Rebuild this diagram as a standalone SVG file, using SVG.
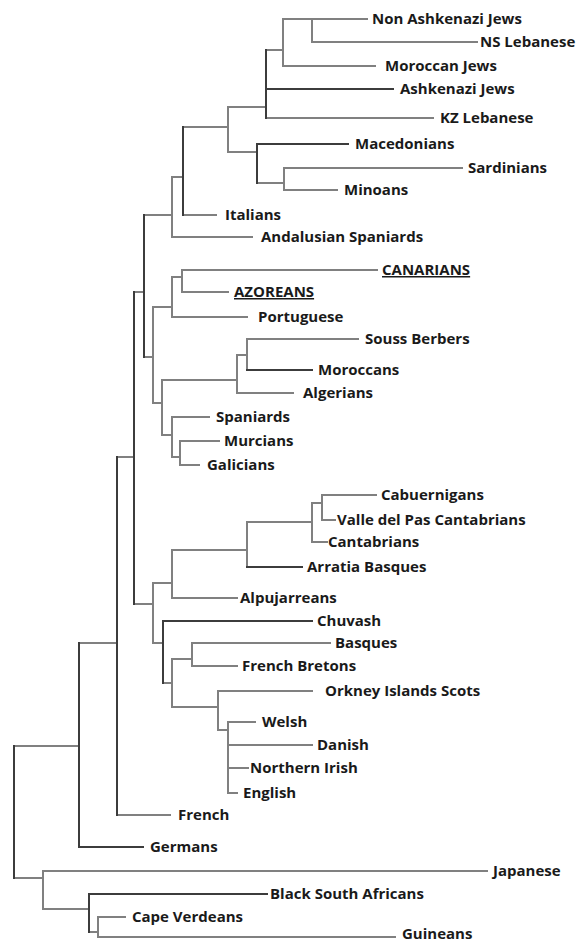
<svg xmlns="http://www.w3.org/2000/svg" width="579" height="944" viewBox="0 0 579 944">
<style>
.e{fill:none;stroke:#808080;stroke-width:2;stroke-linecap:square}
.d{fill:none;stroke:#3c3c3c;stroke-width:2;stroke-linecap:square}
text{font-family:"Open Sans","Noto Sans","DejaVu Sans",sans-serif;font-weight:700;font-size:15px;fill:#1a1a1a}
.u{text-decoration:underline}
</style>
<rect width="579" height="944" fill="#ffffff"/>
<g id="connectors">
<path class="e" d="M312 19V42M283 19H367M312 42H477M283 19V66M283 66H375M266 50H283M266 118H433M228 107H266M228 107V152M183 127H228M228 152H257M257 183H284M284 168V190M284 168H462M284 190H337M183 215H216M172 177H183M172 177V237M172 237H252M144 215H172M135 292H144M144 357H153M153 307V403M153 307H172M172 277V317M172 277H182M182 270V292M182 270H377M182 292H228M172 317H247M153 403H162M162 380V435M162 380H237M237 355V393M237 355H247M247 339V370M247 339H358M237 393H293M162 435H172M172 417V457M172 417H209M172 457H180M180 441V465M180 441H219M180 465H199M117 457H134M134 604H153M153 583V643M153 583H172M172 550V598M172 550H247M247 522V567M247 522H312M312 503V542M312 503H322M322 495V520M322 495H376M322 520H335M312 542H327M172 598H237M153 643H163M163 683H172M172 659V707M172 659H192M192 643V666M192 643H330M192 666H237M172 707H218M218 691V730M218 691H312M218 730H228M228 722V793M228 722H255M228 745H312M228 768H248M228 793H237M117 815H170M79 643H117M14 746H79M14 878H43M43 871V909M43 871H487M43 909H89M89 932H98M98 917V937M98 917H125M98 937H395"/>
<path class="d" d="M266 50V118M266 89H393M183 127V215M257 144V183M257 144H348M144 215V357M134 292V604M117 457V815M247 370H312M247 567H302M163 621V683M163 621H312M79 643V847M79 847H143M14 746V878M89 894V932M89 894H267"/>
</g>
<g id="n-non-ashkenazi-jews"><text x="372" y="24">Non Ashkenazi Jews</text></g>
<g id="n-ns-lebanese"><text x="480" y="47">NS Lebanese</text></g>
<g id="n-moroccan-jews"><text x="385" y="71">Moroccan Jews</text></g>
<g id="n-ashkenazi-jews"><text x="400" y="94">Ashkenazi Jews</text></g>
<g id="n-kz-lebanese"><text x="440" y="123">KZ Lebanese</text></g>
<g id="n-macedonians"><text x="355" y="149">Macedonians</text></g>
<g id="n-sardinians"><text x="468" y="173">Sardinians</text></g>
<g id="n-minoans"><text x="344" y="195">Minoans</text></g>
<g id="n-italians"><text x="225" y="220">Italians</text></g>
<g id="n-andalusian-spaniards"><text x="261" y="242">Andalusian Spaniards</text></g>
<g id="n-canarians"><text class="u" x="382" y="275">CANARIANS</text></g>
<g id="n-azoreans"><text class="u" x="234" y="297">AZOREANS</text></g>
<g id="n-portuguese"><text x="258" y="322">Portuguese</text></g>
<g id="n-souss-berbers"><text x="365" y="344">Souss Berbers</text></g>
<g id="n-moroccans"><text x="318" y="375">Moroccans</text></g>
<g id="n-algerians"><text x="303" y="398">Algerians</text></g>
<g id="n-spaniards"><text x="216" y="422">Spaniards</text></g>
<g id="n-murcians"><text x="224" y="446">Murcians</text></g>
<g id="n-galicians"><text x="207" y="470">Galicians</text></g>
<g id="n-cabuernigans"><text x="381" y="500">Cabuernigans</text></g>
<g id="n-valle-del-pas"><text x="337" y="525">Valle del Pas Cantabrians</text></g>
<g id="n-cantabrians"><text x="328" y="547">Cantabrians</text></g>
<g id="n-arratia-basques"><text x="307" y="572">Arratia Basques</text></g>
<g id="n-alpujarreans"><text x="240" y="603">Alpujarreans</text></g>
<g id="n-chuvash"><text x="317" y="626">Chuvash</text></g>
<g id="n-basques"><text x="335" y="648">Basques</text></g>
<g id="n-french-bretons"><text x="242" y="671">French Bretons</text></g>
<g id="n-orkney"><text x="325" y="696">Orkney Islands Scots</text></g>
<g id="n-welsh"><text x="262" y="727">Welsh</text></g>
<g id="n-danish"><text x="317" y="750">Danish</text></g>
<g id="n-northern-irish"><text x="250" y="773">Northern Irish</text></g>
<g id="n-english"><text x="243" y="798">English</text></g>
<g id="n-french"><text x="178" y="820">French</text></g>
<g id="n-germans"><text x="150" y="852">Germans</text></g>
<g id="n-japanese"><text x="493" y="876">Japanese</text></g>
<g id="n-black-south-africans"><text x="270" y="899">Black South Africans</text></g>
<g id="n-cape-verdeans"><text x="132" y="922">Cape Verdeans</text></g>
<g id="n-guineans"><text x="402" y="939">Guineans</text></g>
</svg>
